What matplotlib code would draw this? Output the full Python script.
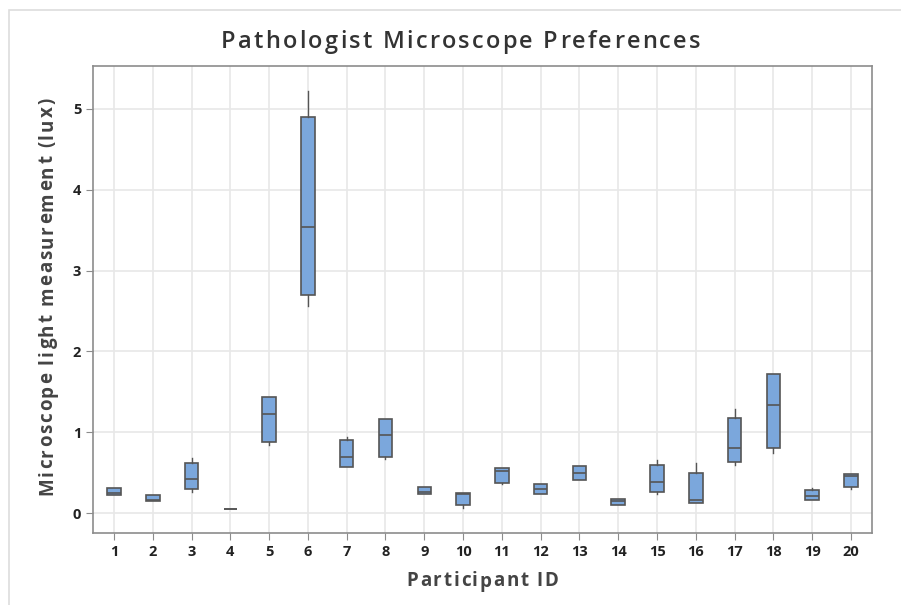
import matplotlib
matplotlib.use("Agg")
from matplotlib import pyplot as plt
from matplotlib.patches import Rectangle

plt.rcParams['font.family'] = ['Open Sans', 'DejaVu Sans']

# Participant IDs and box statistics
participants = list(range(1, 21))
whis_lo = [0.23, 0.15, 0.26, 0.05, 0.845, 2.56, 0.572, 0.671, 0.243, 0.07,
           0.358, 0.243, 0.416, 0.107, 0.239, 0.131, 0.593, 0.749, 0.168, 0.30]
q1 = [0.23, 0.15, 0.305, 0.05, 0.886, 2.70, 0.572, 0.692, 0.243, 0.107,
      0.379, 0.243, 0.416, 0.107, 0.263, 0.131, 0.638, 0.811, 0.168, 0.321]
medians = [0.25, 0.17, 0.424, 0.05, 1.228, 3.544, 0.70, 0.968, 0.264, 0.235,
           0.527, 0.305, 0.503, 0.15, 0.387, 0.168, 0.811, 1.339, 0.21, 0.461]
q3 = [0.31, 0.23, 0.622, 0.05, 1.442, 4.90, 0.91, 1.162, 0.325, 0.251,
      0.56, 0.362, 0.585, 0.173, 0.597, 0.498, 1.182, 1.726, 0.288, 0.486]
whis_hi = [0.31, 0.23, 0.684, 0.05, 1.442, 5.222, 0.947, 1.162, 0.325, 0.251,
           0.56, 0.362, 0.585, 0.173, 0.659, 0.622, 1.286, 1.726, 0.313, 0.486]

title = 'Pathologist Microscope Preferences'
xlabel = 'Participant ID'
ylabel = 'Microscope light measurement (lux)'

W, H = 901, 605
fig = plt.figure(figsize=(W / 100, H / 100), dpi=100)
ax = fig.add_axes([0.1032, 0.119, 0.8646, 0.772])
renderer = fig.canvas.get_renderer()


def spaced_text(s, cx, cy, target, rotation=0, **kw):
    # letter-spaced text: cx, cy = centre/baseline in image pixels
    def width(t):
        tmp = fig.text(0, 0, t, **kw)
        w = tmp.get_window_extent(renderer).width
        tmp.remove()
        return w
    bar = width('|')
    adv = [width(s[:i] + '|') - bar for i in range(len(s))]
    gap = (target - width(s)) / (len(s) - 1)
    for i, ch in enumerate(s):
        if ch == ' ':
            continue
        off = adv[i] + gap * i
        if rotation == 0:
            fig.text((cx - target / 2 + off) / W, 1 - cy / H, ch,
                     ha='left', va='baseline', **kw)
        else:
            fig.text(cx / W, 1 - (cy + target / 2 - off) / H, ch,
                     rotation=90, rotation_mode='anchor',
                     ha='left', va='baseline', **kw)


stats = []
for i in range(len(participants)):
    stats.append({'whislo': whis_lo[i], 'q1': q1[i], 'med': medians[i],
                  'q3': q3[i], 'whishi': whis_hi[i], 'fliers': []})

edge = '#555555'
ax.bxp(stats, positions=participants, widths=0.35, patch_artist=True,
       showcaps=False,
       boxprops=dict(facecolor='#7ba7dc', edgecolor=edge, linewidth=1.2),
       medianprops=dict(color=edge, linewidth=1.2),
       whiskerprops=dict(color=edge, linewidth=1.0))

ax.set_xlim(0.46, 20.54)
ax.set_ylim(-0.244, 5.53)
ax.set_xticks(participants)
ax.set_xticklabels([str(p) for p in participants])
ax.set_yticks([0, 1, 2, 3, 4, 5])

# Grid
ax.grid(True, color='#e8e8e8', linewidth=1.2)
ax.set_axisbelow(True)

for s in ax.spines.values():
    s.set_color('#8c8c8c')
    s.set_linewidth(1.2)
ax.tick_params(direction='out', length=5, color='#8c8c8c',
               labelsize=10.5, labelcolor='#222222')
for lab in ax.get_xticklabels() + ax.get_yticklabels():
    lab.set_fontweight('bold')

# Titles and axis labels (letter-spaced like the reference)
spaced_text(title, 460.5, 48.5, 479, fontsize=17, fontweight='semibold',
            color='#333333')
spaced_text(xlabel, 482.5, 586.5, 152, fontsize=13.5, fontweight='bold',
            color='#444444')
spaced_text(ylabel, 52.5, 296.5, 397, rotation=90, fontsize=13.5,
            fontweight='bold', color='#444444')

# Outer light frame
fig.patches.append(Rectangle((9 / W, -0.1), 1.2, 1 - 10 / H + 0.1,
                             transform=fig.transFigure, fill=False,
                             edgecolor='#dddddd', linewidth=1.2))

fig.savefig('out.png', dpi=100)
